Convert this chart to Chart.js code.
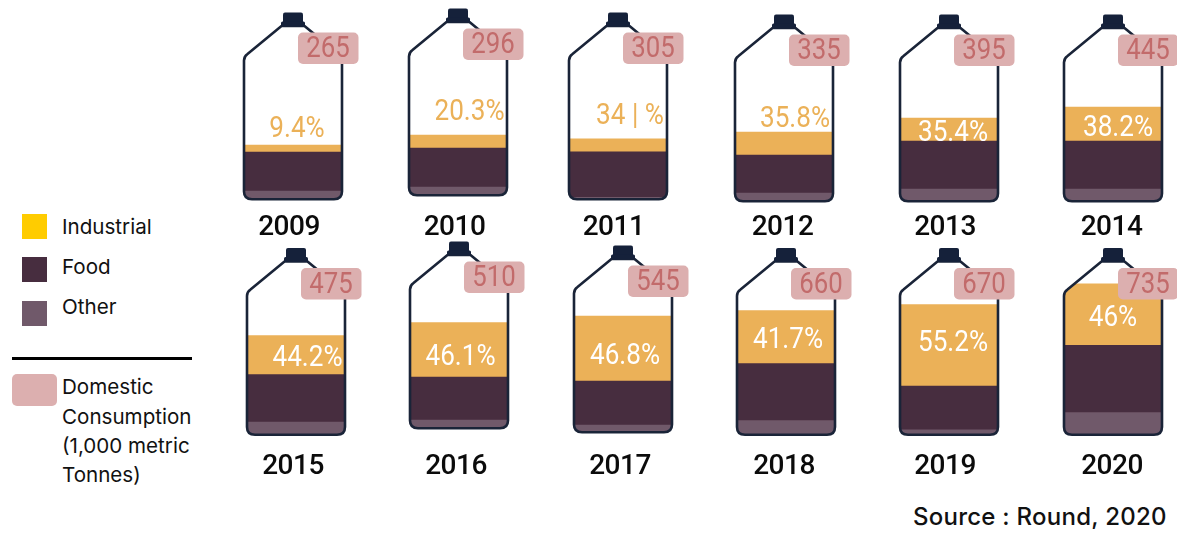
<!DOCTYPE html>
<html>
<head>
<meta charset="utf-8">
<script src="https://cdn.jsdelivr.net/npm/chart.js@4"></script>
<style>
html,body{margin:0;padding:0;background:#fff;width:1177px;height:533px;overflow:hidden;position:relative}
canvas{position:absolute}
.t{position:absolute;font-family:Inter,sans-serif;font-size:20.6px;line-height:24px;color:#111;white-space:nowrap}
.s{position:absolute}
</style>
</head>
<body>
<div class="s" style="left:22px;top:214px;width:25px;height:25px;background:#FFCC00"></div>
<div class="s" style="left:22px;top:257px;width:25px;height:25px;background:#472D3F"></div>
<div class="s" style="left:22px;top:301px;width:25px;height:25px;background:#70596A"></div>
<div class="s" style="left:12px;top:357px;width:180px;height:2.5px;background:#000"></div>
<div class="s" style="left:12px;top:374px;width:45px;height:32px;border-radius:5px;background:#DCAFAF"></div>
<div class="t" style="left:62px;top:215px">Industrial</div>
<div class="t" style="left:62px;top:255px">Food</div>
<div class="t" style="left:62px;top:295px">Other</div>
<div class="t" style="left:62px;top:375px">Domestic</div>
<div class="t" style="left:62px;top:405px">Consumption</div>
<div class="t" style="left:62px;top:434px">(1,000 metric</div>
<div class="t" style="left:62px;top:463px">Tonnes)</div>
<div class="t" style="left:913px;top:503px;font-size:24px;line-height:28px;font-weight:500;letter-spacing:.25px">Source : Round, 2020</div>
<script>
// Data (thousand metric tonnes, read from the fill heights)
const years = ["2009","2010","2011","2012","2013","2014","2015","2016","2017","2018","2019","2020"];
const otherUse = [40,40,8,40,60,60,64,40,35,72,26,112];
const foodUse = [195,195,228,190,240,240,238,215,220,285,218,336];
const industrialUse = [35,65,65,115,115,170,195,272,325,265,408,308];
const consumption = ["265","296","305","335","395","445","475","510","545","660","670","735"];
const industrialShare = ["9.4%","20.3%","34 | %","35.8%","35.4%","38.2%","44.2%","46.1%","46.8%","41.7%","55.2%","46%"];

// Layout of each small multiple on the page (not data)
const panelCx = [293,458,618,784,949,1113,296,459,623,786,949,1113];
const panelBottom = [200.5,196.5,200.5,202.5,202.5,202.5,436,429.5,433.5,436,436,436];
const pctDx = [4,11.5,12,11,4,5,11.5,1.5,2,2,4,0];
const pctDy = [-72,-84.5,-84.5,-84,-70,-75,-78,-73,-78,-96,-93,-118];
const yearDx = [-4,-3.5,-4.5,-1.5,-4,-1.5,-3,-3,-3,-2,-4,-1];
const yearY = [228,228,228,228,228,228,467,467,467,467,467,467];
const pctColor = ["#EBB158","#EBB158","#EBB158","#EBB158","#fff","#fff","#fff","#fff","#fff","#fff","#fff","#fff"];

const NARROW = 'Roboto';
const COL = {industrial:"#EBB158", food:"#472D3F", other:"#70596A", line:"#1A2438", cap:"#15213A", badge:"#DCAFAF", badgeText:"#C26B6B"};
const PLOT_H = 190, Y_MAX = 950, PAD_TOP = 10, HALF_W = 70, INNER = 48;

function bottlePath(ctx, cx, b){
  const w = 49, r = 8;
  ctx.beginPath();
  ctx.moveTo(cx-11.5, b-174.5);
  ctx.lineTo(cx-45.5, b-146.5);
  ctx.quadraticCurveTo(cx-w, b-144, cx-w, b-140);
  ctx.lineTo(cx-w, b-r-1);
  ctx.quadraticCurveTo(cx-w, b-1.2, cx-w+r, b-1.2);
  ctx.lineTo(cx+w-r, b-1.2);
  ctx.quadraticCurveTo(cx+w, b-1.2, cx+w, b-r-1);
  ctx.lineTo(cx+w, b-140);
  ctx.quadraticCurveTo(cx+w, b-144, cx+45.5, b-146.5);
  ctx.lineTo(cx+11.5, b-174.5);
  ctx.closePath();
}
function squeezedText(ctx, text, x, y, sx){
  ctx.save();
  ctx.translate(x, y);
  ctx.scale(sx, 1);
  ctx.fillText(text, 0, 0);
  ctx.restore();
}

const bottlePlugin = {
  id:"bottle",
  beforeDraw(chart){ chart.ctx.letterSpacing = "-0.5px"; },
  beforeDatasetsDraw(chart){
    const o = chart.options.plugins.bottle, ctx = chart.ctx;
    ctx.letterSpacing = "0px";
    const cx = (chart.chartArea.left + chart.chartArea.right)/2, b = chart.chartArea.bottom + 1.5 + o.fb;
    ctx.save();
    bottlePath(ctx, cx, b);
    ctx.clip();
  },
  afterDatasetsDraw(chart){
    const o = chart.options.plugins.bottle, ctx = chart.ctx;
    ctx.restore();
    const cx = (chart.chartArea.left + chart.chartArea.right)/2, b = chart.chartArea.bottom + 1.5 + o.fb;
    ctx.save();
    // outline
    bottlePath(ctx, cx, b);
    ctx.lineWidth = 2.6; ctx.strokeStyle = COL.line; ctx.lineJoin = "round"; ctx.stroke();
    // cap
    ctx.fillStyle = COL.cap;
    ctx.beginPath(); ctx.roundRect(cx-10, b-188, 20, 13, 2); ctx.fill();
    ctx.beginPath(); ctx.roundRect(cx-12, b-179, 24, 5, 1.5); ctx.fill();
    // percent label, clipped by the bottle
    ctx.save();
    bottlePath(ctx, cx, b); ctx.clip();
    ctx.font = '29px '+NARROW; ctx.textAlign="center"; ctx.textBaseline="middle";
    ctx.fillStyle = o.pctColor;
    squeezedText(ctx, o.pct, cx+o.pctDx, b+o.pctDy+1, 0.9);
    ctx.restore();
    // consumption badge
    ctx.fillStyle = COL.badge;
    ctx.beginPath(); ctx.roundRect(cx+5, b-168, 60.5, 31.5, 5); ctx.fill();
    ctx.font = '30px '+NARROW; ctx.textAlign="center"; ctx.textBaseline="middle";
    ctx.fillStyle = COL.badgeText;
    squeezedText(ctx, o.badge, cx+35, b-151, 0.86);
    ctx.restore();
  }
};

years.forEach((year,i)=>{
  const innerBottom = panelBottom[i]-1.5;
  const plotBottom = Math.round(innerBottom);
  const fb = innerBottom - plotBottom;
  const top = plotBottom - PLOT_H - PAD_TOP;
  const fontSize = 28, padding = Math.round(yearY[i]-plotBottom-fontSize/2);
  const c = document.createElement("canvas");
  c.width = HALF_W*2; c.height = PAD_TOP+PLOT_H+padding*2+fontSize+8;
  c.style.left = (panelCx[i]-HALF_W)+"px"; c.style.top = top+"px";
  c.style.width = c.width+"px"; c.style.height = c.height+"px";
  document.body.appendChild(c);
  new Chart(c,{
    type:"bar",
    data:{labels:[year],datasets:[
      {label:"Other",data:[otherUse[i]],backgroundColor:COL.other,stack:"s"},
      {label:"Food",data:[foodUse[i]],backgroundColor:COL.food,stack:"s"},
      {label:"Industrial",data:[industrialUse[i]],backgroundColor:COL.industrial,stack:"s"}
    ]},
    options:{
      responsive:false,animation:false,devicePixelRatio:1,
      barPercentage:1,categoryPercentage:1,
      layout:{padding:{left:HALF_W-INNER,right:HALF_W-INNER,top:PAD_TOP,bottom:8}},
      scales:{
        x:{stacked:true,grid:{display:false,drawTicks:false},border:{display:false},
           ticks:{padding,labelOffset:yearDx[i],maxRotation:0,color:"#0b0b0b",
                  font:{family:NARROW,size:fontSize,weight:"500",lineHeight:1}}},
        y:{stacked:true,display:false,min:0,max:Y_MAX}
      },
      plugins:{legend:{display:false},tooltip:{enabled:false},
        bottle:{fb,pct:industrialShare[i],pctDx:pctDx[i],pctDy:pctDy[i],pctColor:pctColor[i],badge:consumption[i]}}
    },
    plugins:[bottlePlugin]
  });
});
</script>
</body>
</html>
